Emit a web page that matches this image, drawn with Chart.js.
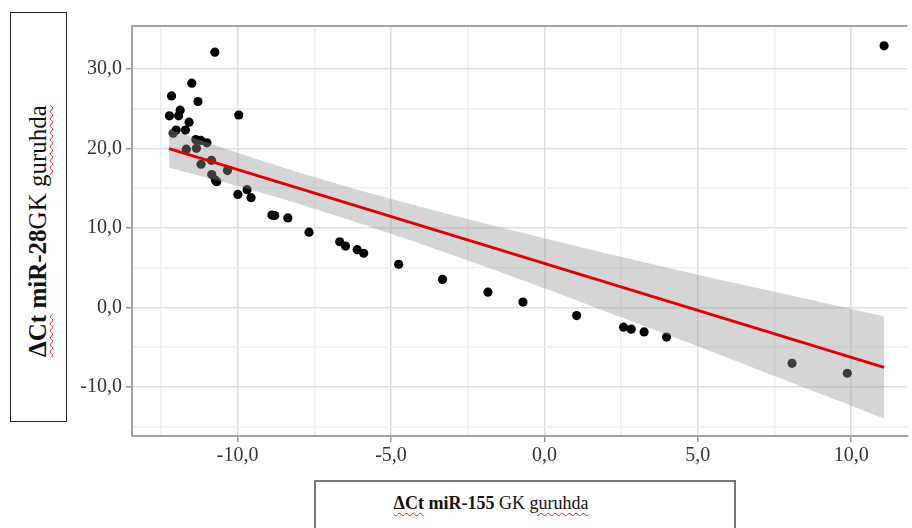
<!DOCTYPE html>
<html>
<head>
<meta charset="utf-8">
<script src="https://cdn.jsdelivr.net/npm/chart.js@4.4.1/dist/chart.umd.min.js"></script>
<style>
  html, body { margin: 0; padding: 0; background: #fff; }
  #wrap { position: relative; width: 912px; height: 528px; overflow: hidden; }
  #c { position: absolute; left: 0; top: 0; }
  .box { position: absolute; box-sizing: border-box; background: #fff; }
  #ybox { left: 10px; top: 12px; width: 57px; height: 410px; border: 1px solid #222; }
  #xbox { left: 314px; top: 480px; width: 422px; height: 70px; border: 2px solid #777; border-bottom: none; }
  .ttl { position: absolute; font-family: "Liberation Serif", "Times New Roman", serif; color: #111; white-space: nowrap; }
  #ytitle { font-size: 25px; left: 38px; top: 231px; transform: translate(-50%, -50%) rotate(-90deg); }
  #xtitle { font-size: 18px; left: 491px; top: 503px; transform: translate(-50%, -50%); }
  .sp { text-decoration: underline wavy #d42020; text-decoration-thickness: 1px; text-underline-offset: 3px; }
</style>
</head>
<body>
<div id="wrap">
  <canvas id="c" width="912" height="528"></canvas>
  <div class="box" id="ybox"></div>
  <div class="box" id="xbox"></div>
  <div class="ttl" id="ytitle"><b><span class="sp">ΔCt</span> miR-28</b>GK <span class="sp">guruhda</span></div>
  <div class="ttl" id="xtitle"><b><span class="sp">ΔCt</span> miR-155</b> GK <span class="sp">guruhda</span></div>
</div>
<script>
// ---- data ----
const pointsX = [-10.74, 11.07, -12.15, -11.49, -11.29, -11.87, -12.22, -11.92, -9.96, -11.58,
                 -12.00, -12.10, -11.70, -11.36, -11.20, -11.00, -11.67, -11.34, -10.85, -11.19,
                 -10.33, -10.84, -10.72, -10.68, -9.99, -9.69, -9.56, -8.88, -8.79, -8.36,
                 -7.67, -6.67, -6.48, -6.10, -5.89, -4.75, -3.32, -1.84, -0.70, 1.05,
                 2.58, 2.83, 3.25, 3.98, 8.07, 9.87];
const pointsY = [32.1, 32.9, 26.6, 28.2, 25.9, 24.8, 24.1, 24.1, 24.2, 23.3,
                 22.3, 21.9, 22.3, 21.1, 21.0, 20.7, 19.9, 20.0, 18.5, 18.0,
                 17.2, 16.7, 16.0, 15.8, 14.2, 14.8, 13.8, 11.6, 11.55, 11.25,
                 9.45, 8.25, 7.7, 7.25, 6.8, 5.4, 3.5, 1.9, 0.65, -1.05,
                 -2.5, -2.75, -3.1, -3.75, -7.05, -8.3];
const fitX = [-12.23, 11.07];
const fitY = [19.96, -7.57];
const bandX     = [-12.23, -10.0, -7.5, -5.0, -2.5, 0.0, 2.5, 5.0, 7.5, 11.07];
const bandUpper = [22.4, 19.45, 16.4, 13.65, 11.1, 8.7, 6.35, 4.1, 1.95, -1.15];
const bandLower = [17.55, 15.25, 12.4, 9.25, 5.9, 2.4, -1.25, -4.9, -8.65, -14.0];
const xTicks = [-12.5, -10, -7.5, -5, -2.5, 0, 2.5, 5, 7.5, 10];
const yTicks = [-15, -10, -5, 0, 5, 10, 15, 20, 25, 30];

const toXY = (xs, ys) => xs.map((x, i) => ({ x: x, y: ys[i] }));
const fmt = v => v.toFixed(1).replace('.', ',');
const tickFont = { family: "Liberation Serif", size: 20 };

const topBorder = {
  id: 'topBorder',
  afterDraw(chart) {
    const a = chart.chartArea, ctx = chart.ctx;
    ctx.save();
    ctx.strokeStyle = '#a3a3a3';
    ctx.lineWidth = 2;
    ctx.beginPath();
    ctx.moveTo(a.left, a.top);
    ctx.lineTo(a.right, a.top);
    ctx.stroke();
    ctx.restore();
  }
};

new Chart(document.getElementById('c'), {
  type: 'scatter',
  data: {
    datasets: [
      { data: toXY(pointsX, pointsY), backgroundColor: '#000', borderColor: '#000',
        pointRadius: 4.6, borderWidth: 0, order: 3 },
      { data: toXY(bandX, bandUpper), showLine: true, pointRadius: 0, borderWidth: 0,
        borderColor: 'rgba(0,0,0,0)', backgroundColor: 'rgba(150,150,150,0.4)',
        fill: '+1', tension: 0.4, order: 2 },
      { data: toXY(bandX, bandLower), showLine: true, pointRadius: 0, borderWidth: 0,
        borderColor: 'rgba(0,0,0,0)', fill: false, tension: 0.4, order: 2 },
      { data: toXY(fitX, fitY), showLine: true, pointRadius: 0, borderWidth: 3,
        borderColor: '#e00000', fill: false, order: 1 }
    ]
  },
  options: {
    responsive: false,
    animation: false,
    layout: { padding: { left: 0, top: 26, right: 0, bottom: 52 } },
    plugins: { legend: { display: false }, tooltip: { enabled: false } },
    scales: {
      x: {
        type: 'linear', min: -13.44, max: 11.83,
        afterFit(s) { s.height = 40; },
        afterBuildTicks(s) { s.ticks = xTicks.map(v => ({ value: v })); },
        ticks: { autoSkip: false, maxRotation: 0, font: tickFont, color: '#333', padding: 2,
                 callback: v => (Math.abs(v % 5) < 1e-9 ? fmt(v) : '') },
        grid: {
          color: c => (c.tick && Math.abs(c.tick.value % 5) < 1e-9 ? '#dedede' : '#efefef'),
          tickColor: c => (c.tick && Math.abs(c.tick.value % 5) < 1e-9 ? '#999' : 'rgba(0,0,0,0)'),
          lineWidth: 1.5, tickLength: 6
        },
        border: { color: '#a3a3a3', width: 2 }
      },
      y: {
        type: 'linear', min: -16.2, max: 35.4,
        afterFit(s) { s.width = 132; },
        afterBuildTicks(s) { s.ticks = yTicks.map(v => ({ value: v })); },
        ticks: { autoSkip: false, font: tickFont, color: '#333', padding: 4,
                 callback: v => (Math.abs(v % 10) < 1e-9 ? fmt(v) : '') },
        grid: {
          color: c => (c.tick && Math.abs(c.tick.value % 10) < 1e-9 ? '#dedede' : '#efefef'),
          tickColor: c => (c.tick && Math.abs(c.tick.value % 10) < 1e-9 ? '#999' : 'rgba(0,0,0,0)'),
          lineWidth: 1.5, tickLength: 6
        },
        border: { color: '#a3a3a3', width: 2 }
      }
    }
  },
  plugins: [topBorder]
});
</script>
</body>
</html>
